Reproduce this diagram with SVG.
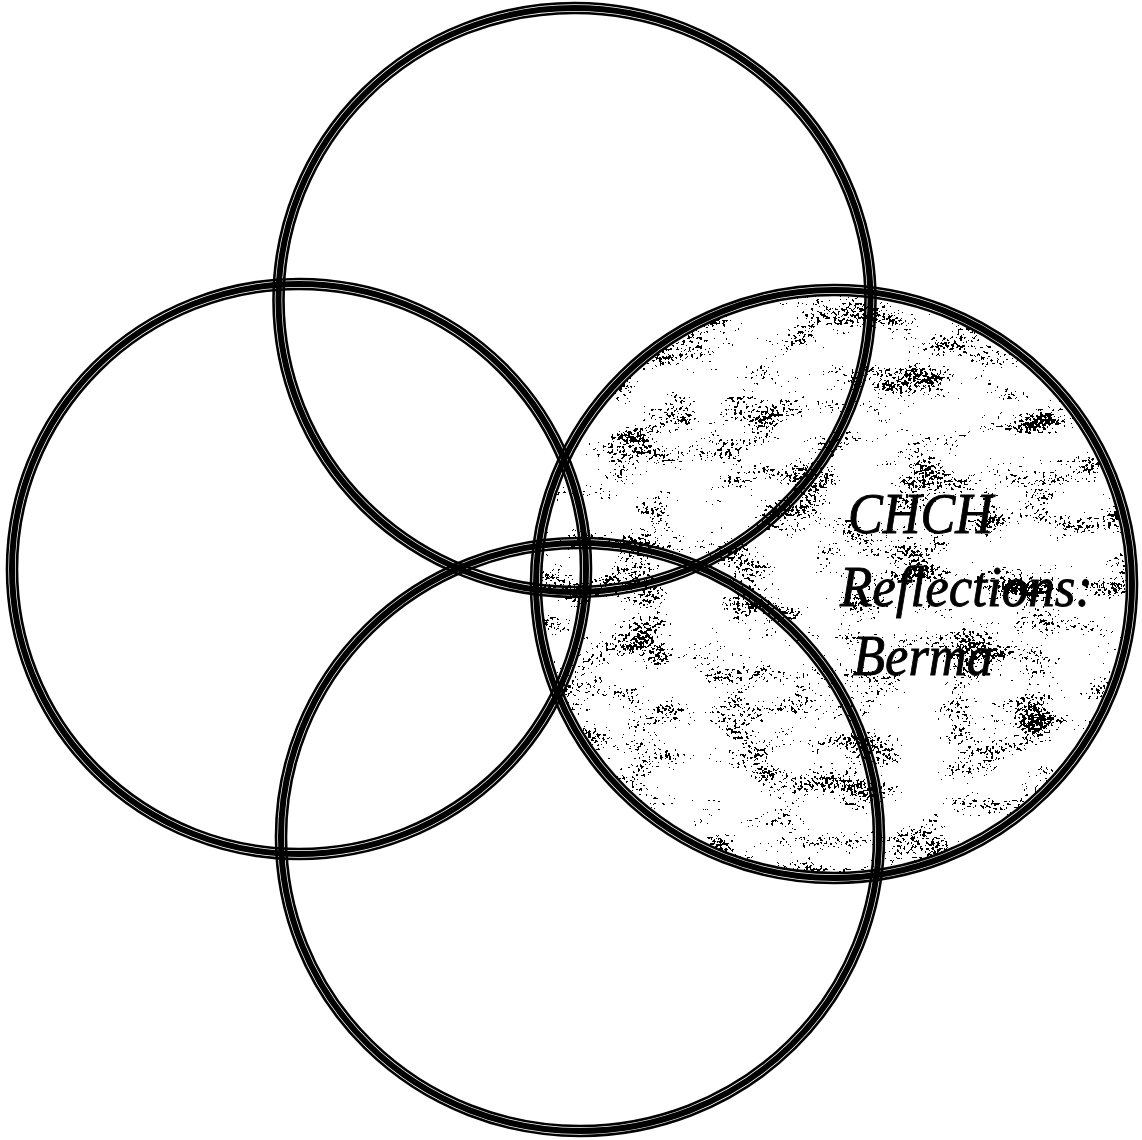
<svg xmlns="http://www.w3.org/2000/svg" width="1142" height="1140" viewBox="0 0 1142 1140">
<style>
.o{fill:none;stroke:#000;stroke-width:2.6}
.m{fill:none;stroke:#000;stroke-width:6}
.t{font-family:"Liberation Serif","Times New Roman",serif;font-style:italic;font-size:58px;fill:#000;stroke:#000;stroke-width:0.9}
</style>
<defs>
<clipPath id="rc"><ellipse cx="834" cy="584" rx="293" ry="289"/></clipPath>
<filter id="speck" x="0" y="0" width="1" height="1" filterUnits="objectBoundingBox" color-interpolation-filters="sRGB">
<feTurbulence type="fractalNoise" baseFrequency="0.018 0.03" numOctaves="4" seed="11" result="c0"/>
<feColorMatrix in="c0" type="matrix" values="0 0 0 0 0  0 0 0 0 0  0 0 0 0 0  1 0 0 0 0" result="c"/>
<feTurbulence type="fractalNoise" baseFrequency="0.35" numOctaves="2" seed="5" result="f0"/>
<feColorMatrix in="f0" type="matrix" values="0 0 0 0 0  0 0 0 0 0  0 0 0 0 0  1 0 0 0 0" result="f"/>
<feComposite in="c" in2="f" operator="arithmetic" k1="0" k2="1" k3="1" k4="-1" result="s"/>
<feColorMatrix in="s" type="matrix" values="0 0 0 0 0  0 0 0 0 0  0 0 0 0 0  0 0 0 6 -0.98"/>
<feComponentTransfer><feFuncA type="discrete" tableValues="0 1"/></feComponentTransfer>
</filter>
</defs>
<rect width="1142" height="1140" fill="#fff"/>
<g id="texture" clip-path="url(#rc)">
<rect x="530" y="280" width="610" height="610" fill="#000" filter="url(#speck)"/>
</g>
<g id="circle-top">
<ellipse class="o" cx="574.5" cy="300" rx="301" ry="297"/>
<ellipse class="m" cx="574.5" cy="300" rx="296" ry="292"/>
<ellipse class="o" cx="574.5" cy="300" rx="291" ry="287"/>
</g>
<g id="circle-left">
<ellipse class="o" cx="299" cy="569" rx="292" ry="290"/>
<ellipse class="m" cx="299" cy="569" rx="287" ry="285"/>
<ellipse class="o" cx="299" cy="569" rx="282" ry="280"/>
</g>
<g id="circle-right">
<ellipse class="o" cx="834" cy="584" rx="303" ry="299"/>
<ellipse class="m" cx="834" cy="584" rx="298" ry="294"/>
<ellipse class="o" cx="834" cy="584" rx="293" ry="289"/>
</g>
<g id="circle-bottom">
<ellipse class="o" cx="580" cy="837" rx="304" ry="299"/>
<ellipse class="m" cx="580" cy="837" rx="299" ry="294"/>
<ellipse class="o" cx="580" cy="837" rx="294" ry="289"/>
</g>
<g id="label">
<text class="t" x="848" y="533" textLength="145" lengthAdjust="spacingAndGlyphs">CHCH</text>
<text class="t" x="840" y="606" textLength="253" lengthAdjust="spacingAndGlyphs">Reflections:</text>
<text class="t" x="853" y="675" textLength="140" lengthAdjust="spacingAndGlyphs">Berma</text>
</g>
</svg>
